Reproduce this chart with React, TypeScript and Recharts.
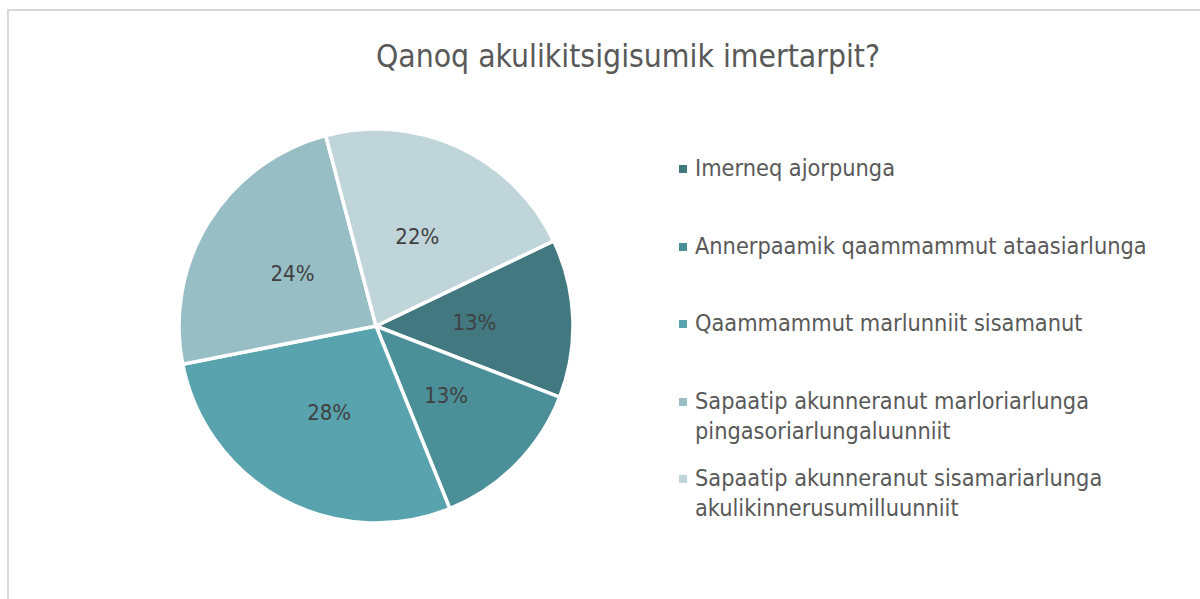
import React from "react";
import { PieChart, Pie, Cell, Legend } from "recharts";

const categories = [
  "Imerneq ajorpunga",
  "Annerpaamik qaammammut ataasiarlunga",
  "Qaammammut marlunniit sisamanut",
  "Sapaatip akunneranut marloriarlunga pingasoriarlungaluunniit",
  "Sapaatip akunneranut sisamariarlunga akulikinnerusumilluunniit",
];
const shares = [13, 13, 28, 24, 22];
const colors = ["#427981", "#4B8F98", "#59A3AE", "#98BEC5", "#C0D5D9"];

const data = categories.map((name, i) => ({ name, value: shares[i] }));

const FONT = "'DejaVu Sans Condensed', 'DejaVu Sans', sans-serif";
const RADIAN = Math.PI / 180;

const renderLabel = (props: any) => {
  const { cx, cy, midAngle, outerRadius, value } = props;
  const r = outerRadius * 0.5;
  const x = cx + r * Math.cos(-midAngle * RADIAN);
  const y = cy + r * Math.sin(-midAngle * RADIAN);
  return (
    <text
      x={x}
      y={y}
      fill="#404040"
      fontSize={22}
      fontFamily={FONT}
      textAnchor="middle"
      dominantBaseline="central"
    >
      {`${value}%`}
    </text>
  );
};

const renderLegend = () => (
  <div style={{ position: "relative", width: 500, height: 400, fontFamily: FONT }}>
    {categories.map((name, i) => (
      <div
        key={name}
        style={{
          position: "absolute",
          top: i * 77.5,
          left: 0,
          display: "flex",
          alignItems: "flex-start",
        }}
      >
        <span
          style={{
            width: 8,
            height: 8,
            background: colors[i],
            marginTop: 12,
            marginRight: 8,
            flex: "none",
          }}
        />
        <span
          style={{
            width: 475,
            fontSize: 23.3,
            lineHeight: "30px",
            color: "#595959",
          }}
        >
          {name}
        </span>
      </div>
    ))}
  </div>
);

export default function App() {
  return (
    <div style={{ position: "absolute", left: 0, top: 0, width: 1200, height: 599, background: "#fff", overflow: "hidden" }}>
      <div
        style={{
          position: "absolute",
          left: 7,
          top: 9,
          width: 1300,
          height: 700,
          borderLeft: "2px solid #D9D9D9",
          borderTop: "2px solid #D9D9D9",
        }}
      />
      <div
        style={{
          position: "absolute",
          left: 0,
          width: 1256,
          top: 36,
          textAlign: "center",
          fontFamily: FONT,
          fontSize: 31.6,
          color: "#595959",
          lineHeight: "40px",
        }}
      >
        Qanoq akulikitsigisumik imertarpit?
      </div>
      <div style={{ position: "absolute", left: 0, top: 0 }}>
        <PieChart width={1200} height={599} margin={{ top: 0, right: 0, bottom: 0, left: 0 }}>
          <Pie
            data={data}
            dataKey="value"
            nameKey="name"
            cx={376}
            cy={326}
            outerRadius={197}
            startAngle={25.6}
            endAngle={-334.4}
            stroke="#FFFFFF"
            strokeWidth={3.5}
            label={renderLabel}
            labelLine={false}
            isAnimationActive={false}
          >
            {data.map((d, i) => (
              <Cell key={d.name} fill={colors[i]} />
            ))}
          </Pie>
          <Legend
            content={renderLegend}
            wrapperStyle={{ position: "absolute", left: 679, top: 153, width: 500 }}
          />
        </PieChart>
      </div>
    </div>
  );
}
